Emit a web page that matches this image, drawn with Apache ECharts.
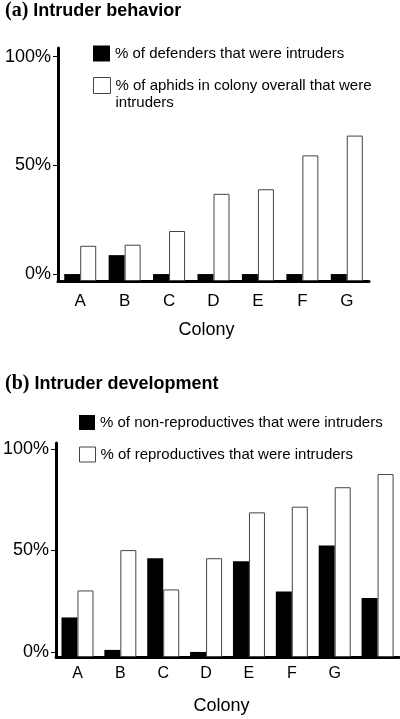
<!DOCTYPE html>
<html>
<head>
<meta charset="utf-8">
<script src="https://cdn.jsdelivr.net/npm/echarts@6/dist/echarts.min.js"></script>
<style>
html,body{margin:0;padding:0;background:#fff;}
#c{width:400px;height:719px;}
</style>
</head>
<body>
<div id="c"></div>
<script>
// Panel (a)
var catsA = ['A', 'B', 'C', 'D', 'E', 'F', 'G'];
var defendersA = [0, 8.7, 0, 0, 0, 0, 0];
var overallA = [13, 13.5, 19.8, 36.9, 39, 54.6, 63.7];
// Panel (b)
var catsB = ['A', 'B', 'C', 'D', 'E', 'F', 'G', ''];
var nonReproB = [17, 1, 46.2, 0, 44.7, 29.8, 52.5, 26.6];
var reproB = [30.3, 50.2, 30.8, 46.2, 68.8, 71.6, 81.2, 87.7];
var yTicks = [0, 50, 100];

var nameA1 = '% of defenders that were intruders';
var nameA2 = '% of aphids in colony overall that were intruders';
var nameB1 = '% of non-reproductives that were intruders';
var nameB2 = '% of reproductives that were intruders';

var FONT = 'Liberation Sans';
var BLACK = {color: '#000', borderColor: '#000', borderWidth: 0};
var WHITE = {color: '#fff', borderColor: '#444', borderWidth: 1};

function legend(name, left, top, w, h, style, fmt) {
  return {
    left: left, top: top, padding: 0, orient: 'vertical', selectedMode: false,
    itemWidth: w, itemHeight: h, icon: 'rect',
    data: [{name: name, itemStyle: style}],
    formatter: fmt || function (n) { return n; },
    textStyle: {fontFamily: FONT, fontSize: 15, lineHeight: 17, color: '#000'}
  };
}

function yAxis(idx, min, max) {
  return {
    type: 'value', gridIndex: idx, min: min, max: max, startValue: min,
    axisLine: {show: true, lineStyle: {color: '#000', width: 3}},
    axisTick: {show: true, length: 5, lineStyle: {color: '#000', width: 1}, customValues: yTicks},
    axisLabel: {customValues: yTicks, formatter: '{value}%', fontFamily: FONT, fontSize: 18, color: '#000', margin: 7},
    splitLine: {show: false}
  };
}

function xAxis(idx, cats, margin, fs, shift) {
  return {
    type: 'category', gridIndex: idx, data: cats,
    axisLine: {show: true, onZero: false, lineStyle: {color: '#000', width: 3}},
    axisTick: {show: false},
    axisLabel: {fontFamily: FONT, fontSize: fs, color: '#000', margin: margin, interval: 0},
    name: 'Colony', nameLocation: 'middle', nameGap: 40,
    nameTextStyle: {fontFamily: FONT, fontSize: 18, color: '#000', padding: [0, shift, 0, 0]}
  };
}

function bar(name, data, xi, style) {
  return {
    type: 'bar', name: name, data: data, xAxisIndex: xi, yAxisIndex: xi,
    barWidth: 16, barGap: '0%', itemStyle: style, silent: true, animation: false
  };
}

var chart = echarts.init(document.getElementById('c'), null, {renderer: 'canvas'});
chart.setOption({
  animation: false,
  backgroundColor: '#fff',
  title: [
    {left: 5, top: 1, padding: 0, text: '{p|(a)} {h|Intruder behavior}',
     textStyle: {rich: {p: {fontFamily: 'Liberation Serif', fontWeight: 'bold', fontSize: 20, color: '#000'},
                        h: {fontFamily: FONT, fontWeight: 'bold', fontSize: 18, color: '#000'}}}},
    {left: 5, top: 374, padding: 0, text: '{p|(b)} {h|Intruder development}',
     textStyle: {rich: {p: {fontFamily: 'Liberation Serif', fontWeight: 'bold', fontSize: 20, color: '#000'},
                        h: {fontFamily: FONT, fontWeight: 'bold', fontSize: 18, color: '#000'}}}}
  ],
  legend: [
    legend(nameA1, 93, 45, 17, 16, BLACK),
    legend(nameA2, 93, 60, 17, 16, WHITE, function () { return '\n% of aphids in colony overall that were\nintruders'; }),
    legend(nameB1, 79, 414, 16, 15, BLACK),
    legend(nameB2, 79, 446, 16, 15, WHITE)
  ],
  grid: [
    {left: 58, top: 48, width: 311, height: 233, containLabel: false},
    {left: 54, top: 443, width: 345, height: 214, containLabel: false}
  ],
  xAxis: [xAxis(0, catsA, 12, 17, 14), xAxis(1, catsB, 9, 16, 12)],
  yAxis: [yAxis(0, -3.2, 104), yAxis(1, -2.5, 103)],
  series: [
    bar(nameA1, defendersA, 0, BLACK),
    bar(nameA2, overallA, 0, WHITE),
    bar(nameB1, nonReproB, 1, BLACK),
    bar(nameB2, reproB, 1, WHITE)
  ]
});
</script>
</body>
</html>
